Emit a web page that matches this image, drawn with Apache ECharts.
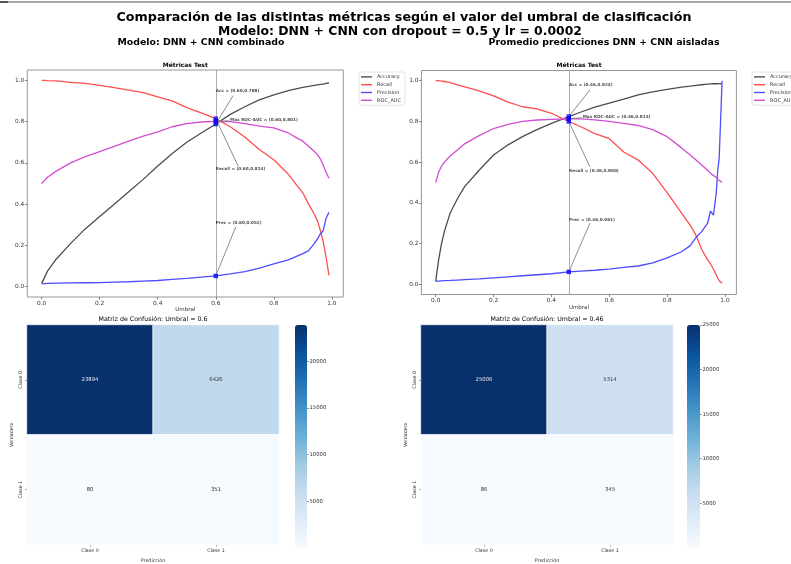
<!DOCTYPE html>
<html>
<head>
<meta charset="utf-8">
<script src="https://cdn.jsdelivr.net/npm/echarts@6/dist/echarts.min.js"></script>
<style>html,body{margin:0;padding:0;background:#fff}#c{width:791px;height:564px}</style>
</head>
<body>
<div id="c"></div>
<script>
// ---------- data ----------
const seriesNames = ['Accuracy', 'Recall', 'Precision', 'ROC_AUC'];
const classes = ['Clase 0', 'Clase 1'];
const axisTicks = [0, 0.2, 0.4, 0.6, 0.8, 1.0];

// Left: DNN + CNN combinado
const thrL = [0,0.01,0.02,0.05,0.1,0.15,0.2,0.25,0.3,0.35,0.4,0.45,0.5,0.55,0.6,0.65,0.7,0.75,0.8,0.85,0.88,0.9,0.92,0.94,0.95,0.96,0.97,0.98,0.99];
const accL = [0.016,0.045,0.075,0.133,0.21,0.28,0.34,0.40,0.46,0.52,0.585,0.645,0.70,0.745,0.788,0.835,0.872,0.905,0.93,0.95,0.96,0.966,0.971,0.976,0.978,0.98,0.982,0.985,0.987];
const recL = [1.0,1.0,0.999,0.997,0.99,0.985,0.975,0.965,0.952,0.94,0.92,0.90,0.868,0.842,0.814,0.775,0.725,0.665,0.615,0.545,0.49,0.455,0.40,0.35,0.32,0.275,0.22,0.145,0.055];
const precL = [0.015,0.015,0.016,0.017,0.018,0.019,0.02,0.022,0.024,0.027,0.03,0.035,0.04,0.046,0.052,0.062,0.073,0.09,0.11,0.13,0.148,0.16,0.175,0.21,0.23,0.255,0.27,0.33,0.36];
const rocL = [0.5,0.515,0.53,0.56,0.60,0.63,0.655,0.68,0.705,0.73,0.75,0.775,0.79,0.798,0.801,0.80,0.79,0.778,0.77,0.745,0.72,0.705,0.68,0.655,0.64,0.62,0.59,0.555,0.525];
const bestL = 0.60;
const bestValsL = { acc: 0.788, roc: 0.801, rec: 0.814, prec: 0.052 };
const cmL = [[23894, 6426], [80, 351]];
const cbTicksL = [5000, 10000, 15000, 20000];

// Right: Promedio predicciones DNN + CNN aisladas
const thrR = [0,0.01,0.02,0.03,0.05,0.075,0.1,0.15,0.2,0.25,0.3,0.35,0.4,0.46,0.5,0.55,0.6,0.65,0.7,0.75,0.8,0.85,0.88,0.9,0.92,0.94,0.95,0.96,0.97,0.975,0.98,0.99];
const accR = [0.016,0.12,0.2,0.26,0.35,0.42,0.48,0.56,0.635,0.685,0.725,0.76,0.79,0.824,0.845,0.87,0.89,0.91,0.93,0.945,0.957,0.968,0.973,0.977,0.98,0.983,0.984,0.985,0.985,0.986,0.986,0.986];
const recR = [1.0,1.0,0.998,0.996,0.99,0.98,0.97,0.95,0.925,0.895,0.872,0.862,0.84,0.80,0.775,0.74,0.715,0.65,0.61,0.545,0.45,0.35,0.29,0.24,0.17,0.12,0.10,0.075,0.046,0.03,0.018,0.005];
const precR = [0.015,0.016,0.017,0.018,0.019,0.021,0.023,0.027,0.032,0.037,0.042,0.047,0.052,0.061,0.065,0.069,0.075,0.083,0.09,0.105,0.13,0.16,0.19,0.23,0.26,0.30,0.36,0.34,0.45,0.56,0.62,1.0];
const rocR = [0.5,0.55,0.58,0.60,0.63,0.66,0.69,0.73,0.765,0.785,0.80,0.807,0.81,0.813,0.812,0.808,0.80,0.79,0.78,0.76,0.725,0.67,0.635,0.61,0.585,0.56,0.545,0.535,0.525,0.515,0.51,0.502];
const bestR = 0.46;
const bestValsR = { acc: 0.824, roc: 0.813, rec: 0.800, prec: 0.061 };
const cmR = [[25006, 5314], [86, 345]];
const cbTicksR = [5000, 10000, 15000, 20000, 25000];

// ---------- styling / layout ----------
const FONT = 'DejaVu Sans';
const COLORS = ['#4d4d4d', '#ff4d4d', '#4d4dff', '#d24dd2'];
const BLUES = ['#f7fbff','#deebf7','#c6dbef','#9ecae1','#6baed6','#4292c6','#2171b5','#08519c','#08306b'];

const zip = (xs, ys) => xs.map((x, i) => [x, ys[i]]);
const fmt = (t, v) => '(' + t.toFixed(2) + ',' + v.toFixed(3) + ')';

function lineSeries(gi, thr, vals, best, bv, ann) {
  const out = [];
  vals.forEach((v, k) => {
    const s = {
      type: 'line', name: seriesNames[k], xAxisIndex: gi, yAxisIndex: gi,
      data: zip(thr, v), symbol: 'none', showSymbol: false, silent: true,
      lineStyle: { color: COLORS[k], width: 1.3 }, itemStyle: { color: COLORS[k] }, z: 3
    };
    if (k === 0) {
      s.markLine = { silent: true, symbol: 'none', label: { show: false },
        lineStyle: { color: '#9a9a9a', width: 0.8, type: 'solid' }, data: [{ xAxis: best }] };
    }
    out.push(s);
  });
  const labels = [
    { t: 'Acc = ' + fmt(best, bv.acc), v: bv.acc },
    { t: 'Max ROC-AUC = ' + fmt(best, bv.roc), v: bv.roc },
    { t: 'Recall = ' + fmt(best, bv.rec), v: bv.rec },
    { t: 'Prec = ' + fmt(best, bv.prec), v: bv.prec }
  ];
  out.push({
    type: 'lines', coordinateSystem: 'cartesian2d', xAxisIndex: gi, yAxisIndex: gi, silent: true, z: 4,
    lineStyle: { color: '#808080', width: 0.9, opacity: 1 },
    data: labels.map((l, i) => ({ coords: [ann[i].from, [best, l.v]] }))
  });
  out.push({
    type: 'scatter', xAxisIndex: gi, yAxisIndex: gi, silent: true, z: 5,
    symbol: 'rect', symbolSize: 4.5, itemStyle: { color: '#0000ff' },
    data: labels.map(l => [best, l.v])
  });
  out.push({
    type: 'scatter', xAxisIndex: gi, yAxisIndex: gi, silent: true, z: 6,
    symbolSize: 0,
    label: { show: true, position: 'right', distance: 0, formatter: p => p.name,
      fontFamily: FONT, fontSize: 4.2, fontWeight: 'bold', color: '#1a1a1a' },
    data: labels.map((l, i) => ({ name: l.t, value: ann[i].tx }))
  });
  return out;
}

const annL = [
  { tx: [0.6, 0.947], from: [0.66, 0.926] },
  { tx: [0.649, 0.806], from: [0.645, 0.804] },
  { tx: [0.6, 0.571], from: [0.677, 0.585] },
  { tx: [0.6, 0.309], from: [0.669, 0.29] }
];
const annR = [
  { tx: [0.461, 0.978], from: [0.533, 0.954] },
  { tx: [0.508, 0.82], from: [0.505, 0.818] },
  { tx: [0.461, 0.556], from: [0.533, 0.577] },
  { tx: [0.461, 0.316], from: [0.533, 0.30] }
];

function heatData(cm) {
  const mx = Math.max(...cm.flat());
  const d = [];
  cm.forEach((row, yi) => row.forEach((v, xi) => {
    d.push({ value: [xi, yi, v], label: { color: v > mx / 2 ? '#e8e8e8' : '#333333' } });
  }));
  return d;
}

const lineGrids = [
  { left: 27.3, top: 70, width: 316, height: 227 },
  { left: 421.4, top: 70.5, width: 315, height: 224 }
];
const heatGrids = [
  { left: 27, top: 325, width: 252, height: 222 },
  { left: 421, top: 325, width: 252, height: 222 }
];
const cbGrids = [
  { left: 295, top: 325, width: 12, height: 222 },
  { left: 687, top: 325, width: 13, height: 222 }
];

const grid = [];
lineGrids.forEach(g => grid.push(Object.assign({ show: true, borderColor: '#8a8a8a', borderWidth: 0.9, backgroundColor: '#fff' }, g)));
heatGrids.forEach(g => grid.push(Object.assign({ show: false }, g)));
cbGrids.forEach(g => grid.push(Object.assign({ show: false }, g)));

const tickLbl = { fontFamily: FONT, fontSize: 5.8, color: '#333', margin: 3, formatter: v => v.toFixed(1), customValues: axisTicks };
const tickTk = { show: true, inside: false, length: 2.5, lineStyle: { color: '#555', width: 0.7 }, customValues: axisTicks };
const noLine = { show: false, onZero: false };

const xAxis = [], yAxis = [];
[0, 1].forEach(i => {
  xAxis.push({ type: 'value', gridIndex: i, min: -0.0495, max: 1.0395, position: 'bottom',
    axisLine: noLine, splitLine: { show: false }, axisTick: tickTk, axisLabel: tickLbl,
    name: 'Umbral', nameLocation: 'middle', nameGap: 9.5,
    nameTextStyle: { fontFamily: FONT, fontSize: 5.5, color: '#333' } });
  yAxis.push({ type: 'value', gridIndex: i, min: -0.05, max: 1.05, position: 'left',
    axisLine: noLine, splitLine: { show: false }, axisTick: tickTk, axisLabel: tickLbl });
});
[2, 3].forEach(i => {
  xAxis.push({ type: 'category', gridIndex: i, data: classes, position: 'bottom',
    axisLine: noLine, splitLine: { show: false },
    axisTick: { show: true, alignWithLabel: true, length: 2, lineStyle: { color: '#555', width: 0.6 } },
    axisLabel: { fontFamily: FONT, fontSize: 4.8, color: '#333', margin: 3.5 },
    name: 'Predicción', nameLocation: 'middle', nameGap: 13.5,
    nameTextStyle: { fontFamily: FONT, fontSize: 4.8, color: '#333' } });
  yAxis.push({ type: 'category', gridIndex: i, data: classes, inverse: true,
    axisLine: noLine, splitLine: { show: false },
    axisTick: { show: true, alignWithLabel: true, length: 2, lineStyle: { color: '#555', width: 0.6 } },
    axisLabel: { fontFamily: FONT, fontSize: 4.8, color: '#333', rotate: 90, margin: 3.5 },
    name: 'Verdadero', nameLocation: 'middle', nameGap: 13, nameRotate: 90,
    nameTextStyle: { fontFamily: FONT, fontSize: 4.8, color: '#333' } });
});
[[4, cmL, cbTicksL], [5, cmR, cbTicksR]].forEach(([i, cm, ticks]) => {
  xAxis.push({ type: 'value', gridIndex: i, show: false, min: 0, max: 1 });
  yAxis.push({ type: 'value', gridIndex: i, position: 'right',
    min: Math.min(...cm.flat()), max: Math.max(...cm.flat()),
    axisLine: noLine, splitLine: { show: false },
    axisTick: { show: true, length: 2, lineStyle: { color: '#555', width: 0.6 }, customValues: ticks },
    axisLabel: { fontFamily: FONT, fontSize: 5.3, color: '#333', margin: 2.5, customValues: ticks, formatter: v => String(v) } });
});

const series = [].concat(
  lineSeries(0, thrL, [accL, recL, precL, rocL], bestL, bestValsL, annL),
  lineSeries(1, thrR, [accR, recR, precR, rocR], bestR, bestValsR, annR)
);
const heatIdxL = series.length;
series.push({ type: 'heatmap', xAxisIndex: 2, yAxisIndex: 2, data: heatData(cmL), silent: true,
  itemStyle: { borderColor: '#ffffff', borderWidth: 0.6 },
  label: { show: true, fontFamily: FONT, fontSize: 5.3, formatter: p => String(p.value[2]) } });
const heatIdxR = series.length;
series.push({ type: 'heatmap', xAxisIndex: 3, yAxisIndex: 3, data: heatData(cmR), silent: true,
  itemStyle: { borderColor: '#ffffff', borderWidth: 0.6 },
  label: { show: true, fontFamily: FONT, fontSize: 5.3, formatter: p => String(p.value[2]) } });

const visualMap = [
  { type: 'continuous', seriesIndex: heatIdxL, dimension: 2, min: Math.min(...cmL.flat()), max: Math.max(...cmL.flat()),
    inRange: { color: BLUES }, calculable: false, hoverLink: false, padding: 0,
    left: cbGrids[0].left, top: cbGrids[0].top, itemWidth: cbGrids[0].width, itemHeight: cbGrids[0].height },
  { type: 'continuous', seriesIndex: heatIdxR, dimension: 2, min: Math.min(...cmR.flat()), max: Math.max(...cmR.flat()),
    inRange: { color: BLUES }, calculable: false, hoverLink: false, padding: 0,
    left: cbGrids[1].left, top: cbGrids[1].top, itemWidth: cbGrids[1].width, itemHeight: cbGrids[1].height }
];

const legendBase = {
  orient: 'vertical', top: 72, data: seriesNames, selectedMode: false,
  icon: 'rect', itemWidth: 11, itemHeight: 1.4, itemGap: 0, padding: [1, 4, 1, 2],
  borderColor: '#d0d0d0', borderWidth: 0.6, borderRadius: 2, backgroundColor: '#fff',
  textStyle: { fontFamily: FONT, fontSize: 5, color: '#333', lineHeight: 7.8 }
};
const legend = [Object.assign({ left: 359 }, legendBase), Object.assign({ left: 752 }, legendBase)];

const txt = (x, y, text, size, weight) => ({ type: 'text', x: x, y: y, silent: true,
  style: { text: text, fontFamily: FONT, fontSize: size, fontWeight: weight || 'normal', fill: '#000', align: 'center', verticalAlign: 'middle' } });

const graphic = [
  { type: 'line', silent: true, shape: { x1: 0, y1: 2, x2: 791, y2: 2 }, style: { stroke: '#8c8c8c', lineWidth: 1.5 } },
  { type: 'line', silent: true, shape: { x1: 0, y1: 2, x2: 8, y2: 2 }, style: { stroke: '#555', lineWidth: 2 } },
  txt(404, 18, 'Comparación de las distintas métricas según el valor del umbral de clasificación', 12.7, 'bold'),
  txt(400, 32, 'Modelo: DNN + CNN con dropout = 0.5 y lr = 0.0002', 12.4, 'bold'),
  txt(201, 42.5, 'Modelo: DNN + CNN combinado', 9.4, 'bold'),
  txt(604, 42.5, 'Promedio predicciones DNN + CNN aisladas', 9.4, 'bold'),
  txt(185.3, 65, 'Métricas Test', 6, 'bold'),
  txt(579, 65, 'Métricas Test', 6, 'bold'),
  txt(153, 319, 'Matriz de Confusión: Umbral = 0.6', 6.3),
  txt(547, 319, 'Matriz de Confusión: Umbral = 0.46', 6.3)
];

const chart = echarts.init(document.getElementById('c'), null, { renderer: 'canvas' });
chart.setOption({
  animation: false,
  backgroundColor: '#fff',
  grid, xAxis, yAxis, series, visualMap, legend, graphic
});
</script>
</body>
</html>
